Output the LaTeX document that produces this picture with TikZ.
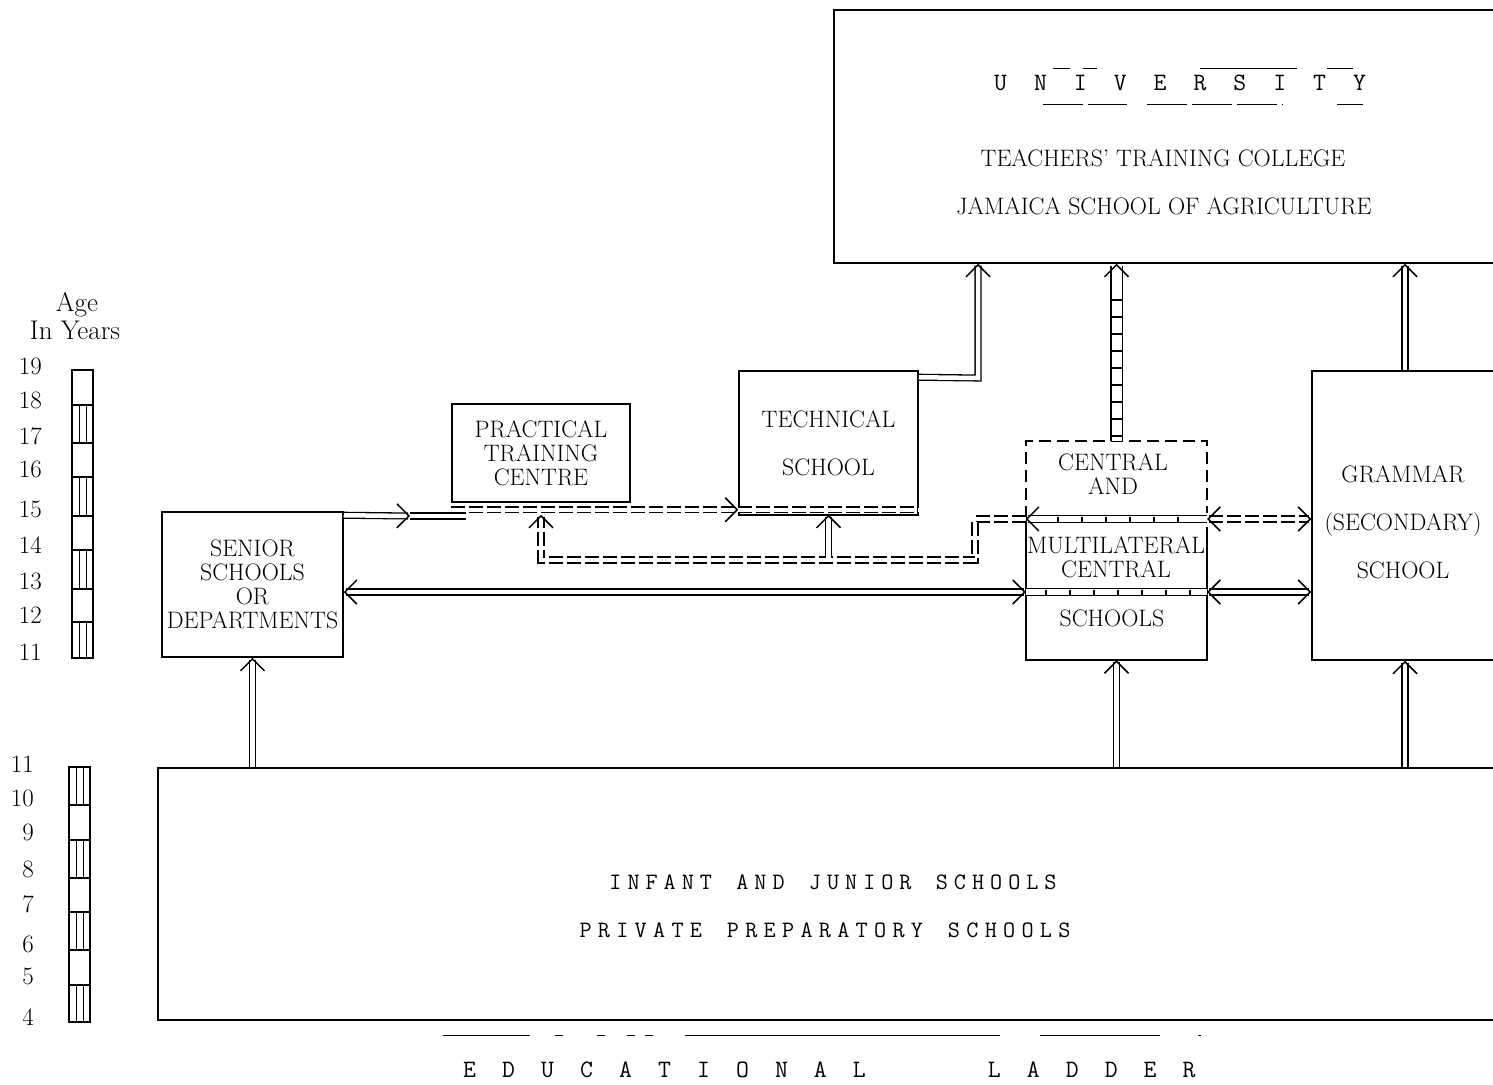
\documentclass[tikz,border=0pt]{standalone}
\usepackage{fontspec}
\usetikzlibrary{arrows.meta}
\newdimen\lskern
\def\lsword#1{\lswordB#1\relax}
\def\lswordB#1{#1\lswordA}
\def\lswordA#1{\ifx#1\relax\else\kern\lskern#1\expandafter\lswordA\fi}
\newcommand\bxf{\fontsize{23.8}{24}\selectfont\addfontfeatures{FakeBold=0.6}}
\newcommand\twf[1]{\ttfamily\fontsize{#1}{#1}\selectfont\addfontfeatures{FakeBold=1}}
\newcommand\agf[1]{\fontsize{#1}{#1}\selectfont\addfontfeatures{FakeBold=0.6}}
\begin{document}
\begin{tikzpicture}[x=1pt,y=-1pt,
  box/.style={draw, line width=1.5pt, inner sep=0pt, align=center, font=\bxf},
  txt/.style={inner sep=0pt, align=center, font=\bxf},
  dbl/.style={double, double distance=4.5pt, line width=1.3pt, line join=miter},
  ladv/.style={double, double distance=10pt, line width=1.3pt, line join=miter},
  ladh/.style={double, double distance=5.5pt, line width=1.3pt, line join=miter},
  tip/.style={-{Straight Barb[length=12pt, width=24pt, line width=1.5pt]}},
  tips/.style={{Straight Barb[length=12pt, width=24pt, line width=1.5pt]}-{Straight Barb[length=12pt, width=24pt, line width=1.5pt]}},
  dashes/.style={dash pattern=on 14pt off 4pt},
  rung/.style={line width=1.2pt},
  bar/.style={line width=1.3pt},
  num/.style={inner sep=0pt, anchor=east, font=\agf{25}}]
\useasboundingbox (0,0) rectangle (1493,1084);

% ---------- boxes ----------
\node[box, minimum width=676pt, minimum height=253pt] (univ) at (1172,136.5) {};
\node[inner sep=0pt, font=\twf{25}] (univt) at (1180,83) {\lskern=27pt\lsword{UNIVERSITY}};
\node[txt] (ttc) at (1163,158) {TEACHERS' TRAINING COLLEGE};
\node[txt] (jsa) at (1164,206) {JAMAICA SCHOOL OF AGRICULTURE};

\node[box, minimum width=179pt, minimum height=144pt] (tech) at (828.5,443) {TECHNICAL\\[24pt]SCHOOL};
\node[box, minimum width=178pt, minimum height=98pt] (prac) at (541,453) {PRACTICAL\\TRAINING\\CENTRE};
\node[box, minimum width=181pt, minimum height=145pt] (senior) at (252.5,584.5) {SENIOR\\SCHOOLS\\OR\\DEPARTMENTS};
\node[box, minimum width=186pt, minimum height=289pt] (grammar) at (1405,515.5) {};
\node[txt] (gt) at (1403,522) {GRAMMAR\\[24pt](SECONDARY)\\[24pt]SCHOOL};

\node[inner sep=0pt, minimum width=181pt, minimum height=219pt] (central) at (1116.5,550.5) {};
\draw[line width=1.5pt, dash pattern=on 12pt off 6pt]
  ([yshift=-77pt]central.north west) -- (central.north west) -- (central.north east) -- ([yshift=-72pt]central.north east);
\draw[line width=1.5pt]
  ([yshift=-77pt]central.north west) -- (central.south west) -- (central.south east) -- ([yshift=-86pt]central.north east);
\node[txt] (ct1) at (1113,474) {CENTRAL\\AND};
\node[txt] (ct2) at (1116,557.5) {MULTILATERAL\\CENTRAL};
\node[txt] (ct3) at (1112,618) {SCHOOLS};

\node[box, minimum width=1344pt, minimum height=252pt] (infant) at (830,894) {};
\node[inner sep=0pt, font=\twf{23.5}] (inf1) at (833,882)
  {\lskern=6pt\lsword{INFANT}\hspace{24.3pt}\lsword{AND}\hspace{24.3pt}\lsword{JUNIOR}\hspace{24.3pt}\lsword{SCHOOLS}};
\node[inner sep=0pt, font=\twf{23.5}] (inf2) at (825,930)
  {\lskern=6.3pt\lsword{PRIVATE}\hspace{24.9pt}\lsword{PREPARATORY}\hspace{24.9pt}\lsword{SCHOOLS}};

% ---------- title ----------
\draw[line width=1pt, dash pattern=on 87pt off 25pt on 8pt off 34pt on 8pt off 22pt on 8pt off 10pt on 8pt off 32pt on 315pt off 40pt on 120pt off 38pt on 3pt]
  (443,1035) -- (1201,1035);
\node[inner sep=0pt, anchor=west, font=\twf{25}] (title) at (463,1069.5)
  {\lskern=26.1pt\lsword{EDUCATIONAL}\hspace{122pt}\lsword{LADDER}};

% dashes round UNIVERSITY
\foreach \a/\b in {1053/1070,1083/1097,1200/1297,1327/1353}
  \draw[line width=0.8pt] (\a,68) -- (\b,68);
\foreach \a/\b in {1043/1127,1147/1283,1337/1363}
  \draw[line width=0.8pt, dash pattern=on 40pt off 5pt] (\a,104) -- (\b,104);

% ---------- age scale ----------
\node[inner sep=0pt, font=\agf{27}] (age) at (77,305) {Age};
\node[inner sep=0pt, font=\agf{27}] (yrs) at (75,330) {In Years};
\foreach \n/\y in {19/366,18/400,17/436,16/469,15/509,14/545,13/581,12/615,11/652}
  \node[num] (u\n) at (42,\y) {\n};
\foreach \n/\y in {11/764,10/798,9/832,8/869,7/904,6/944,5/976,4/1017}
  \node[num] (l\n) at (34,\y) {\n};
\draw[bar] (72,370) rectangle (93,658);
\foreach \y in {405,443,477,516,550,589,622} \draw[bar] (72,\y) -- (93,\y);
\foreach \a/\b in {405/443,477/516,550/589,622/658}
  {\draw[line width=1pt] (79,\a) -- (79,\b); \draw[line width=1pt] (86,\a) -- (86,\b);}
\draw[bar] (69,767) rectangle (90,1022);
\foreach \y in {805,840,878,912,950,985} \draw[bar] (69,\y) -- (90,\y);
\foreach \a/\b in {767/805,840/878,912/950,985/1022}
  {\draw[line width=1pt] (76,\a) -- (76,\b); \draw[line width=1pt] (83,\a) -- (83,\b);}

% ---------- coordinates ----------
\coordinate (row1) at (0,519);
\coordinate (row2) at (0,592);
\coordinate (lp1) at (975,519);
\coordinate (lp2) at (975,560);
\coordinate (tb) at (828.5,558);
\coordinate (tu) at (978,378);
\coordinate (sp1) at (410,516);
\coordinate (sp2) at (466,516);

% ---------- connectors ----------
\draw[dbl,tip] (senior.south |- infant.north) -- (senior.south);
\draw[dbl,tip] (central.south |- infant.north) -- (central.south);
\draw[dbl,tip] (grammar.south |- infant.north) -- (grammar.south);
\draw[dbl,tip] (grammar.north) -- (grammar.north |- univ.south);
\draw[dbl,tip] ([yshift=-7pt]tech.north east) -- (tu) -- (tu |- univ.south);

\draw[ladv,tip] (central.north) -- (central.north |- univ.south);
\foreach \y in {300,317,...,436} \draw[rung] (1111.5,\y) -- (1121.5,\y);

\draw[dbl,tips] (senior.east |- row2) -- (central.west |- row2);
\draw[dbl,tips] (central.east |- row2) -- (grammar.west |- row2);
\draw[dbl,tips,dashes] (central.east |- row1) -- (grammar.west |- row1);

\draw[ladh,tip] (central.east |- row1) -- (central.west |- row1);
\foreach \x in {1058,1082,...,1190} \draw[rung] (\x,516.5) -- (\x,521.5);
\draw[ladh] (central.west |- row2) -- (central.east |- row2);
\foreach \x in {1046,1070,...,1190} \draw[rung] (\x,589.5) -- (\x,594.5);

\draw[dbl,tip,dashes] (central.west |- row1) -- (lp1) -- (lp2) -- (lp2 -| prac.south) -- ([yshift=-12pt]prac.south);
\draw[dbl,tip] (tb) -- ([yshift=1pt]tech.south);

\draw[dbl,tip] ([yshift=-4pt]senior.north east) -- (sp1);
\draw[dbl] (sp1) -- (sp2);
\draw[dbl,tip,dashes] ([yshift=-7pt]prac.south west) -- ([yshift=6pt]tech.south west);
\draw[dbl,dashes] ([yshift=6pt]tech.south west) -- ([yshift=6pt]tech.south east);
\end{tikzpicture}
\end{document}
